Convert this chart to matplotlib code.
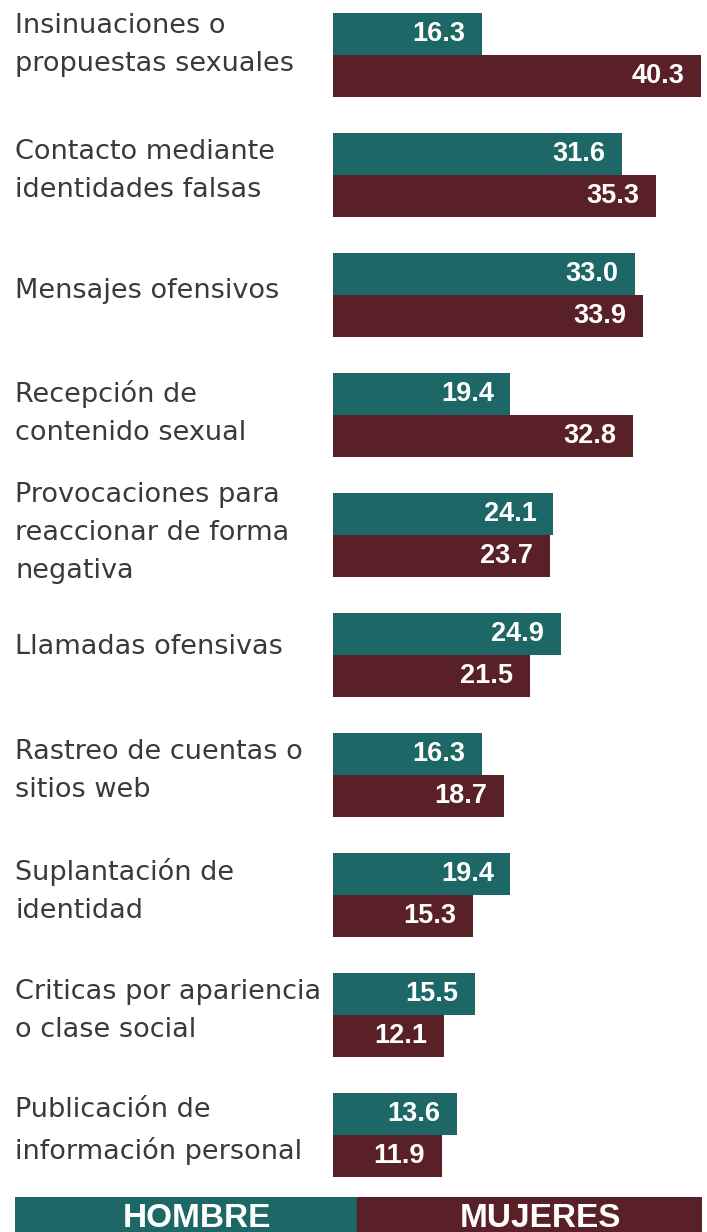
import matplotlib.pyplot as plt
from matplotlib.patches import Rectangle
import numpy as np

categorias = ['Insinuaciones o\npropuestas sexuales',
              'Contacto mediante\nidentidades falsas',
              'Mensajes ofensivos',
              'Recepción de\ncontenido sexual',
              'Provocaciones para\nreaccionar de forma\nnegativa',
              'Llamadas ofensivas',
              'Rastreo de cuentas o\nsitios web',
              'Suplantación de\nidentidad',
              'Criticas por apariencia\no clase social',
              'Publicación de\ninformación personal']
hombres = [16.3, 31.6, 33.0, 19.4, 24.1, 24.9, 16.3, 19.4, 15.5, 13.6]
mujeres = [40.3, 35.3, 33.9, 32.8, 23.7, 21.5, 18.7, 15.3, 12.1, 11.9]

teal = '#1d6766'
maroon = '#5a2028'

W, H = 707, 1232
fig = plt.figure(figsize=(W / 100, H / 100), dpi=100)

# axes start at x=333px, ~9.14 px per unit
x0 = 333
ax = fig.add_axes([x0 / W, 0, (W - x0) / W, 1])
ax.set_xlim(0, (W - x0) / 9.14)
ax.set_ylim((H - 55) / 120, -55 / 120)
ax.axis('off')

y = np.arange(len(categorias))
h = 0.35
r1 = ax.barh(y - h / 2, hombres, height=h, color=teal)
r2 = ax.barh(y + h / 2, mujeres, height=h, color=maroon)

for rects, vals in [(r1, hombres), (r2, mujeres)]:
    for rect, v in zip(rects, vals):
        ax.annotate('{:.1f}'.format(v),
                    xy=(rect.get_width(), rect.get_y() + rect.get_height() / 2),
                    xytext=(-12, 0), textcoords='offset points',
                    ha='right', va='center', color='white',
                    fontsize=19.5, fontweight='bold', family='Liberation Sans')

# category labels on the left (small nudges to match the original layout)
nudge = [10, 4, 4, 2, 2, 8, 4, 4, 4, 4]
for i, lab in enumerate(categorias):
    fig.text(15 / W, 1 - (55 + 120 * i - nudge[i]) / H, lab, ha='left', va='center',
             fontsize=19.5, color='#3a3a3a', family='DejaVu Sans',
             linespacing=1.6)

# legend strip at the bottom
lax = fig.add_axes([15 / W, 0, (702 - 15) / W, 35 / H])
lax.set_xlim(0, 2)
lax.set_ylim(0, 1)
lax.axis('off')
lax.add_patch(Rectangle((0, 0), 0.995, 1, color=teal))
lax.add_patch(Rectangle((0.995, 0), 1.005, 1, color=maroon))
lax.text(0.53, 0.14, 'HOMBRE', ha='center', va='baseline', color='white',
         fontsize=24, fontweight='bold', family='Liberation Sans')
lax.text(1.53, 0.14, 'MUJERES', ha='center', va='baseline', color='white',
         fontsize=24, fontweight='bold', family='Liberation Sans')

plt.savefig('out.png', dpi=100)
